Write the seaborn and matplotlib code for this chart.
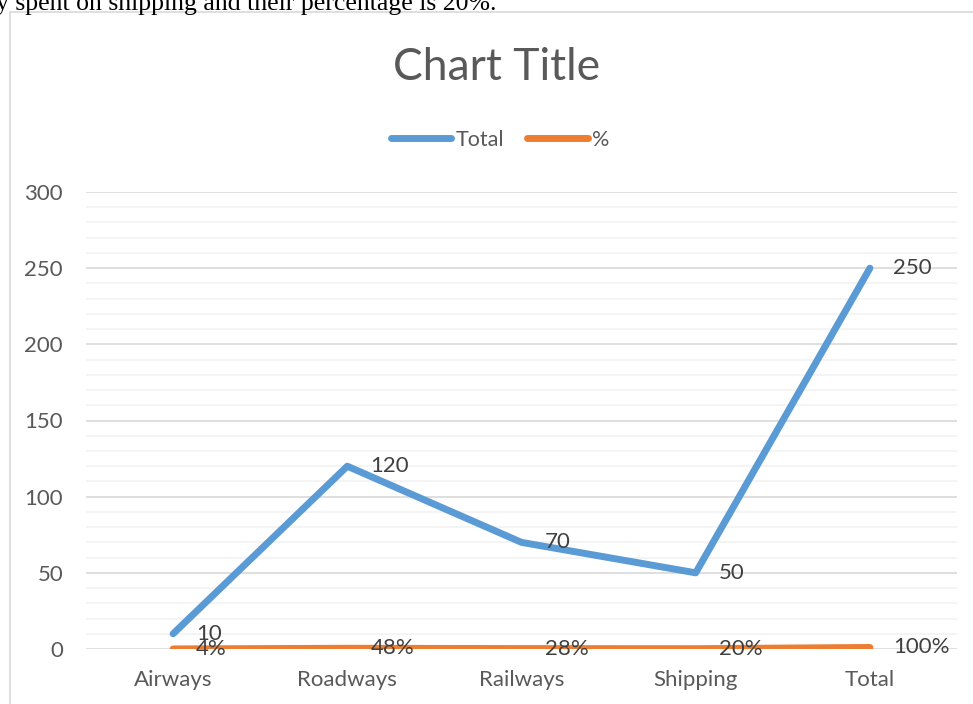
import numpy as np
import pandas as pd
import seaborn as sns
from matplotlib import pyplot as plt
from matplotlib.patches import Rectangle
from matplotlib.ticker import MultipleLocator

categories = ['Airways', 'Roadways', 'Railways', 'Shipping', 'Total']
total_values = [10, 120, 70, 50, 250]
pct_values = [0.04, 0.48, 0.28, 0.20, 1.00]
pct_labels = ['4%', '48%', '28%', '20%', '100%']
series_names = ['Total', '%']

colors = {'Total': '#5B9BD5', '%': '#ED7D31'}
text_col = '#595959'

df = pd.DataFrame({
    'pos': list(range(len(categories))) * 2,
    'value': total_values + pct_values,
    'series': ['Total'] * len(categories) + ['%'] * len(categories),
})

sns.set_style('white')
plt.rcParams['font.family'] = ['Lato', 'DejaVu Sans']

fig = plt.figure(figsize=(9.73, 7.04), dpi=100)
ax = fig.add_axes([86 / 973, 1 - 649 / 704, (957 - 86) / 973, (649 - 192) / 704])

# chart frame and the cut off sentence above it
fig.patches.append(Rectangle((10 / 973, -0.1), 1.2, 1 - 12 / 704 + 0.1,
                             transform=fig.transFigure, fill=False,
                             edgecolor='#D9D9D9', linewidth=1.2))
fig.text(-4 / 973, 1 - 10 / 704, 'y spent on shipping and their percentage is 20%.',
         family='Liberation Serif', fontsize=18.5, va='baseline', ha='left', color='black')

sns.lineplot(data=df, x='pos', y='value', hue='series', hue_order=series_names,
             palette=colors, linewidth=5, sort=False, ax=ax, legend=False,
             solid_capstyle='round')

ax.set_xlim(-0.5, len(categories) - 0.5)
ax.set_ylim(0, 300)
ax.yaxis.set_major_locator(MultipleLocator(50))
ax.yaxis.set_minor_locator(MultipleLocator(10))
ax.set_xticks(range(len(categories)))
ax.set_xticklabels(categories)
ax.grid(which='major', axis='y', color='#D9D9D9', linewidth=1.2)
ax.grid(which='minor', axis='y', color='#F2F2F2', linewidth=1.2)
ax.set_axisbelow(True)
for s in ax.spines.values():
    s.set_visible(False)
ax.tick_params(which='both', length=0, colors=text_col, labelsize=16)
ax.tick_params(axis='y', pad=16.5)
ax.tick_params(axis='x', pad=15)
ax.set_xlabel('')
ax.set_ylabel('')

for i, v in enumerate(total_values):
    ax.annotate(str(v), (i, v), xytext=(23, 0), textcoords='offset pixels',
                va='center', ha='left', fontsize=16, color='#404040')
for i, (v, lab) in enumerate(zip(pct_values, pct_labels)):
    ax.annotate(lab, (i, v), xytext=(23, 0), textcoords='offset pixels',
                va='center', ha='left', fontsize=16, color='#404040')

fig.text(497 / 973, 1 - 67 / 704, 'Chart Title', ha='center', va='center',
         fontsize=32, color=text_col)

handles = [plt.Line2D([], [], color=colors[n], linewidth=5, solid_capstyle='round')
           for n in series_names]
fig.legend(handles, series_names, loc='center', bbox_to_anchor=(500 / 973, 1 - 140 / 704),
           ncol=2, frameon=False, fontsize=15.5, handlelength=2.8, handletextpad=0.2,
           columnspacing=1.1, labelcolor=text_col)

fig.savefig('out.png', dpi=100)
